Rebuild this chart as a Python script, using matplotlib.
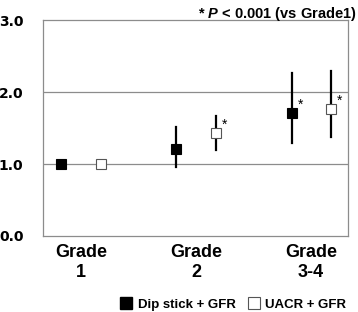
import matplotlib
matplotlib.use("Agg")
import matplotlib.pyplot as plt
from matplotlib.lines import Line2D

# values
grades = ["Grade\n1", "Grade\n2", "Grade\n3-4"]
dip_mean = [1.00, 1.21, 1.71]
dip_low = [1.00, 0.96, 1.29]
dip_high = [1.00, 1.51, 2.26]
uacr_mean = [1.00, 1.43, 1.76]
uacr_low = [1.00, 1.19, 1.38]
uacr_high = [1.00, 1.67, 2.29]
dip_sig = [False, False, True]
uacr_sig = [False, True, True]

GRID = "#8c8c8c"
OFFSET = 0.17

plt.rcParams["mathtext.fontset"] = "custom"
plt.rcParams["mathtext.bfit"] = "Liberation Sans:bold:italic"

fig = plt.figure(figsize=(3.58, 3.12), dpi=100)
ax = fig.add_axes((0.120, 0.2436, 0.852, 0.692))

x = list(range(len(grades)))
xd = [i - OFFSET for i in x]
xu = [i + OFFSET for i in x]

for i in x:
    if dip_high[i] > dip_low[i]:
        ax.plot([xd[i], xd[i]], [dip_low[i], dip_high[i]], color="black", lw=1.6, zorder=3)
    if uacr_high[i] > uacr_low[i]:
        ax.plot([xu[i], xu[i]], [uacr_low[i], uacr_high[i]], color="black", lw=1.6, zorder=3)

ax.plot(xd, dip_mean, ls="none", marker="s", ms=7, mfc="black", mec="black", mew=0.8, zorder=4)
ax.plot(xu, uacr_mean, ls="none", marker="s", ms=7, mfc="white", mec="#555555", mew=0.8, zorder=4)

for i in x:
    if dip_sig[i]:
        ax.text(xd[i] + 0.05, dip_mean[i] + 0.12, "*", fontsize=10, ha="left", va="center",
                family="Liberation Sans", zorder=5)
    if uacr_sig[i]:
        ax.text(xu[i] + 0.05, uacr_mean[i] + 0.12, "*", fontsize=10, ha="left", va="center",
                family="Liberation Sans", zorder=5)

ax.set_xlim(-0.33, 2.32)
ax.set_ylim(0, 3)
ax.set_yticks([0, 1, 2, 3])
ax.set_yticklabels(["0.0", "1.0", "2.0", "3.0"], fontsize=10, fontweight="bold", family="DejaVu Sans")
ax.set_xticks(x)
ax.set_xticklabels(grades, fontsize=13, fontweight="bold", family="Liberation Sans")
ax.tick_params(axis="y", length=0, pad=14)
ax.tick_params(axis="x", length=0, pad=6)

for y in [1, 2]:
    ax.axhline(y, color=GRID, lw=0.9, zorder=1)
for s in ax.spines.values():
    s.set_color(GRID)
    s.set_linewidth(0.9)

fig.text(0.995, 0.985, r"* $\boldsymbol{P}$ < 0.001 (vs Grade1)", ha="right", va="top",
         fontsize=10.5, fontweight="bold", family="Liberation Sans")

handles = [
    Line2D([], [], ls="none", marker="s", ms=8, mfc="black", mec="black"),
    Line2D([], [], ls="none", marker="s", ms=8, mfc="white", mec="#555555", mew=0.8),
]
fig.legend(handles, ["Dip stick + GFR", "UACR + GFR"], loc="lower right",
           bbox_to_anchor=(1.0, -0.035), ncol=2, frameon=False, handlelength=0.8,
           handletextpad=0.45, columnspacing=1.0,
           prop={"family": "Liberation Sans", "weight": "bold", "size": 9.5})

fig.savefig("out.png", dpi=100)
